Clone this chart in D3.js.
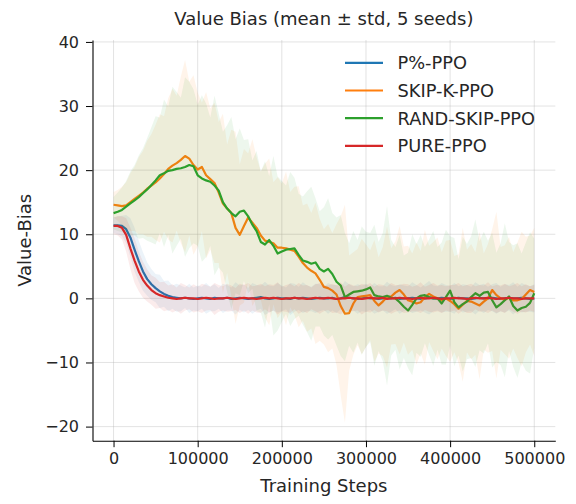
<!DOCTYPE html>
<html><head><meta charset="utf-8">
<script src="https://cdn.jsdelivr.net/npm/d3@7"></script>
<style>body{margin:0;background:#fff}svg{display:block}text{font-family:"DejaVu Sans",sans-serif;fill:#262626}</style>
</head><body><svg id="c" width="576" height="504"></svg>
<script>
const stepSize = 5000;
const seriesNames = ["P%-PPO", "SKIP-K-PPO", "RAND-SKIP-PPO", "PURE-PPO"];
const seriesColors = ["#1f77b4", "#ff7f0e", "#2ca02c", "#d62728"];
const xTicks = [0, 100000, 200000, 300000, 400000, 500000];
const yTicks = [-20, -10, 0, 10, 20, 30, 40];

const pctMean = [11.4,11.4,11.3,10.8,9.5,7.6,5.8,4.2,3.0,2.2,
1.6,1.1,0.7,0.4,0.2,0.1,0.0,0.1,0.0,-0.1,
0.0,0.1,0.0,-0.1,0.1,0.0,0.0,0.1,-0.1,0.0,
0.1,0.0,-0.1,0.0,0.1,0.2,0.0,-0.1,0.0,0.1,
0.0,0.0,-0.1,0.1,0.0,0.1,0.0,-0.1,0.0,0.1,
0.0,0.0,0.1,-0.1,0.0,0.2,0.1,0.0,-0.1,0.0,
0.1,0.0,0.0,-0.1,0.0,0.1,0.0,0.1,-0.1,0.0,
0.0,0.1,0.0,-0.1,0.0,0.1,0.0,0.0,0.1,0.0,
-0.1,0.0,0.1,0.0,0.0,-0.1,0.0,0.1,0.0,0.0,
0.1,0.0,-0.1,0.0,0.1,0.0,0.0,0.1,0.0,-0.1,
0.0];
const pctStd = [1.2,1.4,1.6,2.2,3.0,3.4,3.2,3.0,2.6,2.4,
2.2,2.6,2.0,2.4,1.8,2.2,2.0,1.6,2.3,1.8,
2.0,1.7,2.4,1.9,2.1,1.6,2.3,2.0,1.8,2.5,
1.9,2.2,1.7,2.4,2.0,1.8,2.6,2.1,1.9,2.3,
2.0,1.7,2.5,2.2,1.8,2.4,2.0,1.9,2.3,2.1,
1.8,2.4,2.0,2.2,1.7,2.5,2.1,1.9,2.3,2.0,
2.2,1.8,2.4,2.0,1.9,2.5,2.1,1.8,2.3,2.0,
1.9,2.4,2.1,1.8,2.2,2.6,2.0,1.9,2.3,2.1,
2.0,2.4,1.8,2.2,2.1,1.9,2.5,2.0,2.3,1.8,
2.1,2.4,1.9,2.2,2.0,2.5,1.8,2.3,2.1,2.0,
2.2];

const skipMean = [14.6,14.5,14.4,14.5,15.0,15.5,16.0,16.5,17.1,17.6,
18.1,18.7,19.4,20.2,20.7,21.1,21.6,22.2,21.8,20.8,
20.1,20.5,19.2,18.6,18.0,16.5,14.8,14.0,13.3,11.0,
9.9,11.3,12.6,11.8,11.0,9.8,9.0,8.8,8.6,7.9,
7.9,7.8,7.6,7.4,6.5,5.5,4.8,4.3,3.9,2.9,
1.8,1.6,1.2,0.6,-1.2,-2.4,-2.3,-0.8,0.2,0.3,
0.4,0.5,-0.4,-1.1,-0.5,0.2,0.3,0.9,1.3,0.6,
-0.3,-0.5,-0.8,-0.6,0.2,0.7,0.3,0.0,-0.3,0.0,
-0.4,-0.9,-1.6,-1.0,-0.4,-0.5,-0.8,-1.1,-0.5,0.0,
1.3,0.5,0.0,-0.2,0.1,-0.3,-0.3,-0.1,0.6,1.3,
1.0];
const skipStd = [2.0,2.4,3.0,3.6,4.5,5.0,6.0,6.5,7.5,8.0,
9.0,10.0,9.0,11.0,12.0,10.5,13.0,15.0,12.0,14.0,
12.0,10.0,13.0,11.0,12.5,11.0,14.0,10.0,13.0,15.0,
11.0,12.0,10.0,13.0,11.0,10.0,12.0,13.0,9.5,11.0,
10.0,12.0,9.0,10.0,11.0,9.0,10.0,9.0,11.0,9.5,
9.0,10.0,9.0,11.0,14.0,17.0,9.0,8.0,7.5,9.0,
8.0,7.0,9.5,7.5,8.5,11.0,7.5,8.0,10.0,7.5,
8.5,7.5,9.5,8.0,10.5,7.5,8.5,9.5,7.5,9.0,
9.5,7.5,8.5,12.0,8.0,9.0,8.0,11.5,7.5,8.5,
9.5,13.0,8.0,8.5,9.5,7.5,9.0,10.5,9.0,8.5,
10.0];

const randMean = [13.3,13.5,13.8,14.3,14.8,15.3,15.8,16.4,17.0,17.7,
18.4,19.2,19.5,19.9,20.0,20.2,20.3,20.5,20.8,20.6,
19.2,18.7,18.4,18.2,17.6,16.8,15.0,14.0,13.3,12.8,
13.5,13.7,12.8,11.5,10.5,8.8,8.4,9.1,8.2,7.0,
7.3,7.6,7.7,7.8,6.8,5.9,5.7,5.4,5.6,4.6,
4.2,4.6,3.8,2.6,2.0,0.2,0.6,1.0,1.1,1.2,
1.4,1.7,0.5,0.3,0.2,0.4,0.1,0.0,-0.6,-1.3,
-1.9,-1.0,0.0,0.4,0.5,0.2,0.0,0.0,-0.8,0.2,
1.2,-0.6,-1.4,-0.9,-0.5,0.2,0.8,0.4,0.9,1.0,
-0.3,-1.4,-0.9,-0.3,0.3,-1.2,-1.9,-1.5,-1.3,-0.7,
0.8];
const randStd = [2.5,3.0,3.5,4.0,5.0,5.5,6.5,7.0,8.0,9.0,
10.0,9.0,11.5,10.0,13.0,12.0,11.0,14.0,13.0,12.0,
11.0,13.0,12.0,10.0,14.0,12.0,11.0,13.0,15.0,12.0,
13.0,11.0,12.0,10.0,12.5,11.0,13.0,10.0,14.0,12.0,
11.0,10.0,12.0,11.0,9.5,10.0,11.0,12.0,10.0,9.0,
10.0,11.0,9.5,10.0,11.0,10.0,8.0,9.5,8.0,10.0,
9.0,8.5,11.0,8.5,10.0,14.0,9.0,8.0,10.5,8.0,
9.0,11.0,8.5,9.5,7.5,9.0,10.5,8.0,9.5,10.5,
8.5,10.0,7.5,10.5,9.0,9.5,11.5,8.5,9.5,8.0,
10.5,8.5,9.5,12.0,8.5,9.5,10.5,8.5,10.0,11.0,
8.5];

const pureMean = [11.3,11.3,11.0,9.9,7.8,5.9,4.2,2.9,2.0,1.3,
0.8,0.5,0.3,0.1,0.0,-0.1,0.0,0.1,0.0,0.0,
-0.1,0.0,0.1,0.0,-0.1,0.0,0.0,0.1,0.0,-0.1,
0.0,0.1,0.0,0.0,-0.1,0.0,0.1,0.0,0.1,0.0,
-0.1,0.0,0.0,0.1,0.0,0.0,-0.1,0.0,0.1,0.0,
0.0,0.1,0.0,-0.1,0.0,0.0,0.1,0.0,0.0,-0.1,
0.0,0.1,0.0,0.0,0.1,-0.1,0.0,0.0,0.1,0.0,
0.0,-0.1,0.0,0.1,0.0,0.0,0.1,0.0,-0.1,0.0,
0.0,0.1,0.0,0.0,-0.1,0.0,0.1,0.0,0.0,0.1,
0.0,-0.1,0.0,0.0,0.1,0.0,0.0,-0.1,0.0,0.0,
0.0];
const pureStd = [1.3,1.5,1.8,2.6,3.2,3.5,3.1,2.8,2.5,2.3,
2.4,2.0,2.3,1.9,2.2,1.8,2.4,2.0,1.7,2.2,
1.9,2.3,2.0,1.8,2.5,2.1,1.9,2.2,2.0,1.7,
2.3,2.0,2.4,1.9,2.1,2.3,1.8,2.2,2.0,2.5,
1.9,2.1,2.3,1.8,2.4,2.0,2.2,1.7,2.1,2.4,
2.0,1.9,2.3,2.1,2.5,1.8,2.2,2.0,1.9,2.4,
2.1,2.3,1.8,2.2,2.0,1.9,2.4,2.1,2.0,2.3,
2.2,1.9,2.0,2.4,1.8,2.1,2.3,2.0,2.2,1.9,
2.1,2.0,2.4,1.9,2.2,2.3,1.8,2.1,2.0,2.4,
1.9,2.2,2.0,2.3,1.8,2.1,2.4,2.0,2.2,1.9,
2.1];

const means = [pctMean, skipMean, randMean, pureMean];
const stds = [pctStd, skipStd, randStd, pureStd];

const svg = d3.select("#c");
const X0 = 92.5, X1 = 555.3, Y0 = 440.7, Y1 = 40;
const x = d3.scaleLinear().domain([-25000, 525000]).range([X0, X1]);
const y = d3.scaleLinear().domain([-22.2, 40.3]).range([Y0, Y1]);

// grid
const g = svg.append("g");
g.selectAll(".gx").data(xTicks).enter().append("line")
  .attr("x1", d => x(d)).attr("x2", d => x(d)).attr("y1", Y0).attr("y2", Y1)
  .attr("stroke", "#b0b0b0").attr("stroke-opacity", 0.35).attr("stroke-width", 1);
g.selectAll(".gy").data(yTicks).enter().append("line")
  .attr("x1", X0).attr("x2", X1).attr("y1", d => y(d)).attr("y2", d => y(d))
  .attr("stroke", "#b0b0b0").attr("stroke-opacity", 0.35).attr("stroke-width", 1);

// series
means.forEach((m, s) => {
  const pts = m.map((v, i) => ({s: i * stepSize, m: v, sd: stds[s][i]}));
  const area = d3.area().x(d => x(d.s)).y0(d => y(d.m - d.sd)).y1(d => y(d.m + d.sd));
  svg.append("path").datum(pts).attr("d", area)
    .attr("fill", seriesColors[s]).attr("fill-opacity", 0.085).attr("stroke", "none");
  const line = d3.line().x(d => x(d.s)).y(d => y(d.m));
  svg.append("path").datum(pts).attr("d", line)
    .attr("fill", "none").attr("stroke", seriesColors[s]).attr("stroke-width", 2.2)
    .attr("stroke-linejoin", "round");
});

// axes
const ax = svg.append("g").attr("transform", `translate(0,${Y0})`)
  .call(d3.axisBottom(x).tickValues(xTicks).tickFormat(d3.format("d")).tickSize(6.5).tickPadding(5).tickSizeOuter(0));
ax.select(".domain").attr("stroke", "#000").attr("stroke-width", 1.1);
ax.selectAll(".tick line").attr("stroke", "#000");
ax.selectAll("text").attr("font-size", 16).attr("fill", "#262626").attr("font-family", "DejaVu Sans");

const ay = svg.append("g").attr("transform", `translate(${X0},0)`)
  .call(d3.axisLeft(y).tickValues(yTicks).tickSize(6.5).tickPadding(7).tickSizeOuter(0));
ay.select(".domain").attr("stroke", "#000").attr("stroke-width", 1.1);
ay.selectAll(".tick line").attr("stroke", "#000");
ay.selectAll("text").attr("font-size", 16).attr("fill", "#262626").attr("font-family", "DejaVu Sans");

// labels
svg.append("text").attr("x", (X0 + X1) / 2).attr("y", 25).attr("text-anchor", "middle")
  .attr("font-size", 18).text("Value Bias (mean ± std, 5 seeds)");
svg.append("text").attr("x", (X0 + X1) / 2).attr("y", 492).attr("text-anchor", "middle")
  .attr("font-size", 18).text("Training Steps");
svg.append("text").attr("transform", `translate(31,${(Y0 + Y1) / 2}) rotate(-90)`)
  .attr("text-anchor", "middle").attr("font-size", 18).text("Value-Bias");

// legend
const lg = svg.append("g");
seriesNames.forEach((n, i) => {
  const yy = 62.8 + i * 27.7;
  lg.append("line").attr("x1", 345).attr("x2", 383).attr("y1", yy).attr("y2", yy)
    .attr("stroke", seriesColors[i]).attr("stroke-width", 2.2);
  lg.append("text").attr("x", 397.5).attr("y", yy).attr("dy", "0.36em")
    .attr("font-size", 17.8).text(n);
});
</script></body></html>
